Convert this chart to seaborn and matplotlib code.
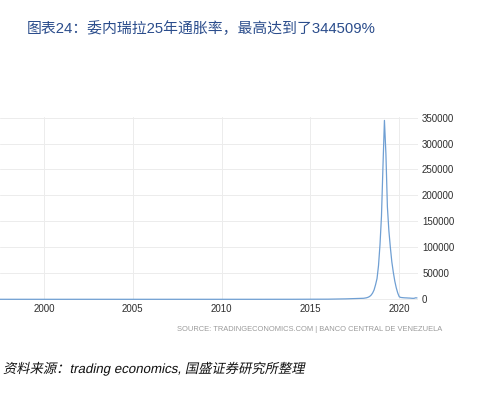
import numpy as np
import pandas as pd
import matplotlib
matplotlib.use('Agg')
import matplotlib.pyplot as plt
import seaborn as sns
from matplotlib.textpath import TextPath
from matplotlib.patches import PathPatch
from matplotlib.font_manager import FontProperties
from matplotlib.transforms import Affine2D, IdentityTransform

# annual inflation (%) before the hyperinflation months
annual_years = [1997, 1998, 1999, 2000, 2001, 2002, 2003, 2004, 2005, 2006,
                2007, 2008, 2009, 2010, 2011, 2012, 2013, 2014, 2015, 2016, 2017]
annual_values = [50, 30, 20, 14, 12, 31, 27, 19, 14, 17,
                 22, 31, 25, 27, 28, 20, 56, 69, 181, 274, 863]

# monthly inflation (%) 2018-2021
monthly_dates = ['2018-01', '2018-02', '2018-03', '2018-04', '2018-05', '2018-06',
                 '2018-07', '2018-08', '2018-09', '2018-10', '2018-11', '2018-12',
                 '2019-01', '2019-02', '2019-03', '2019-04', '2019-05', '2019-06',
                 '2019-07', '2019-08', '2019-09', '2019-10', '2019-11', '2019-12',
                 '2020-01', '2020-02', '2020-03', '2020-04', '2020-05', '2020-06',
                 '2020-07', '2020-08', '2020-09', '2020-10', '2020-11', '2020-12',
                 '2021-01']
monthly_values = [2000, 2500, 3000, 4000, 5500, 8000,
                  12000, 18000, 28000, 40000, 65000, 105000,
                  160000, 255000, 344509, 280000, 178000, 132000,
                  100000, 72000, 52000, 35000, 22000, 12000,
                  5000, 3600, 3300, 3000, 2800, 2700,
                  2500, 2400, 2100, 1900, 1900, 2900,
                  2700]

x_ticks = [2000, 2005, 2010, 2015, 2020]
y_ticks = [0, 50000, 100000, 150000, 200000, 250000, 300000, 350000]

title = '图表24：委内瑞拉25年通胀率，最高达到了344509%'
source_note = 'SOURCE: TRADINGECONOMICS.COM | BANCO CENTRAL DE VENEZUELA'
footer = '资料来源：trading economics, 国盛证券研究所整理'

# build one table with decimal years
m = pd.to_datetime(monthly_dates)
monthly_x = (m.year + (m.month - 1) / 12.0).tolist()
df = pd.DataFrame({
    'year': list(map(float, annual_years)) + monthly_x,
    'inflation': annual_values + monthly_values,
})

sns.set_style('white')
plt.rcParams['font.family'] = ['Liberation Sans', 'Noto Sans CJK SC', 'DejaVu Sans']

fig = plt.figure(figsize=(4.82, 3.98), dpi=100)
ax = fig.add_axes([0.0, 0.246, 0.867, 0.46])

sns.lineplot(data=df, x='year', y='inflation', ax=ax, color='#6f9fd3', linewidth=0.9)

ax.set_xlim(1997.53, 2021.05)
ax.set_ylim(-1500, 351000)
ax.set_xticks(x_ticks)
ax.set_yticks(y_ticks)
ax.set_xticklabels([str(v) for v in x_ticks])
ax.set_yticklabels([str(v) for v in y_ticks])
ax.yaxis.tick_right()
ax.tick_params(axis='both', length=0, labelsize=7, colors='#2e2e2e', pad=3)
ax.grid(True, color='#ececec', linewidth=0.7)
ax.set_axisbelow(True)
for s in ax.spines.values():
    s.set_visible(False)
ax.set_xlabel('')
ax.set_ylabel('')

fig.text(0.056, 0.927, title, fontsize=10.7, color='#2b4d8c', va='center', ha='left')
fig.text(0.917, 0.171, source_note, fontsize=5.4, color='#9a9a9a', va='center', ha='right')

# footer in a slanted face (CJK fonts have no italic, so shear the glyph outlines)
fp = FontProperties(family=['Liberation Sans', 'Noto Sans CJK SC'])
tp = TextPath((0, 0), footer, size=13.3, prop=fp)
shear = Affine2D().skew_deg(12, 0).translate(3, 398 - 373)
patch = PathPatch(shear.transform_path(tp), facecolor='#111111', edgecolor='none',
                  transform=IdentityTransform())
fig.add_artist(patch)

fig.savefig('out.png', dpi=100)
